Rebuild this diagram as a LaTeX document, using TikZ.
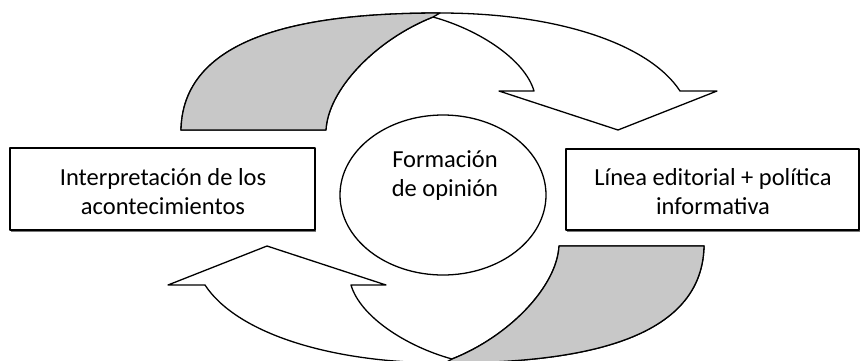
\documentclass[tikz,border=0pt]{standalone}
\usepackage{fontspec}
\setmainfont{Carlito}
\usetikzlibrary{shapes.geometric,shadows}
\definecolor{grayband}{RGB}{200,200,200}
\definecolor{shadowgray}{RGB}{120,120,120}
\begin{document}
\begin{tikzpicture}[x=1pt,y=-1pt,
  outline/.style={draw=black, line width=1.3pt, line join=round},
  textbox/.style={outline, fill=white, rectangle, inner sep=0pt,
     drop shadow={shadow xshift=1pt, shadow yshift=-1.6pt, fill=shadowgray, opacity=1}},
  label text/.style={align=center, inner sep=0pt, font=\fontsize{24.5}{29}\selectfont},
  ribbon/.pic={
    \path[outline, fill=white] (181,130) .. controls (183,30) and (320,13) .. (440,13)
      .. controls (560,13) and (650,45) .. (680,91) -- (717,91) -- (618,130) -- (499,91) -- (534,91)
      .. controls (525,60) and (480,30) .. (433,17)
      .. controls (375,40) and (328,90) .. (326,130) -- cycle;
    \path[outline, fill=grayband] (181,130) .. controls (183,30) and (320,13) .. (440,13)
      -- (433,17) .. controls (375,40) and (328,90) .. (326,130) -- cycle;
  }]
\useasboundingbox (0,0) rectangle (862,360);
\clip (0,0) rectangle (862,360);
\fill[white] (0,0) rectangle (862,360);
% curved arrows
\pic at (0,0) {ribbon};
\pic[rotate=180] at (885,376) {ribbon};
% boxes
\node[textbox, minimum width=305pt, minimum height=82pt] (interp) at (162.5,189) {};
\node[label text] (interptext) at (163,192) {Interpretación de los\\acontecimientos};
\node[textbox, minimum width=293pt, minimum height=81pt] (linea) at (712.5,189.5) {};
\node[label text] (lineatext) at (713,192) {Línea editorial + política\\informativa};
% ellipse
\node[outline, ellipse, minimum width=206pt, minimum height=160pt, inner sep=0pt] (opinion) at (443,195) {};
\node[label text] (opiniontext) at (445,176) {Formación\\de opinión};
\end{tikzpicture}
\end{document}
